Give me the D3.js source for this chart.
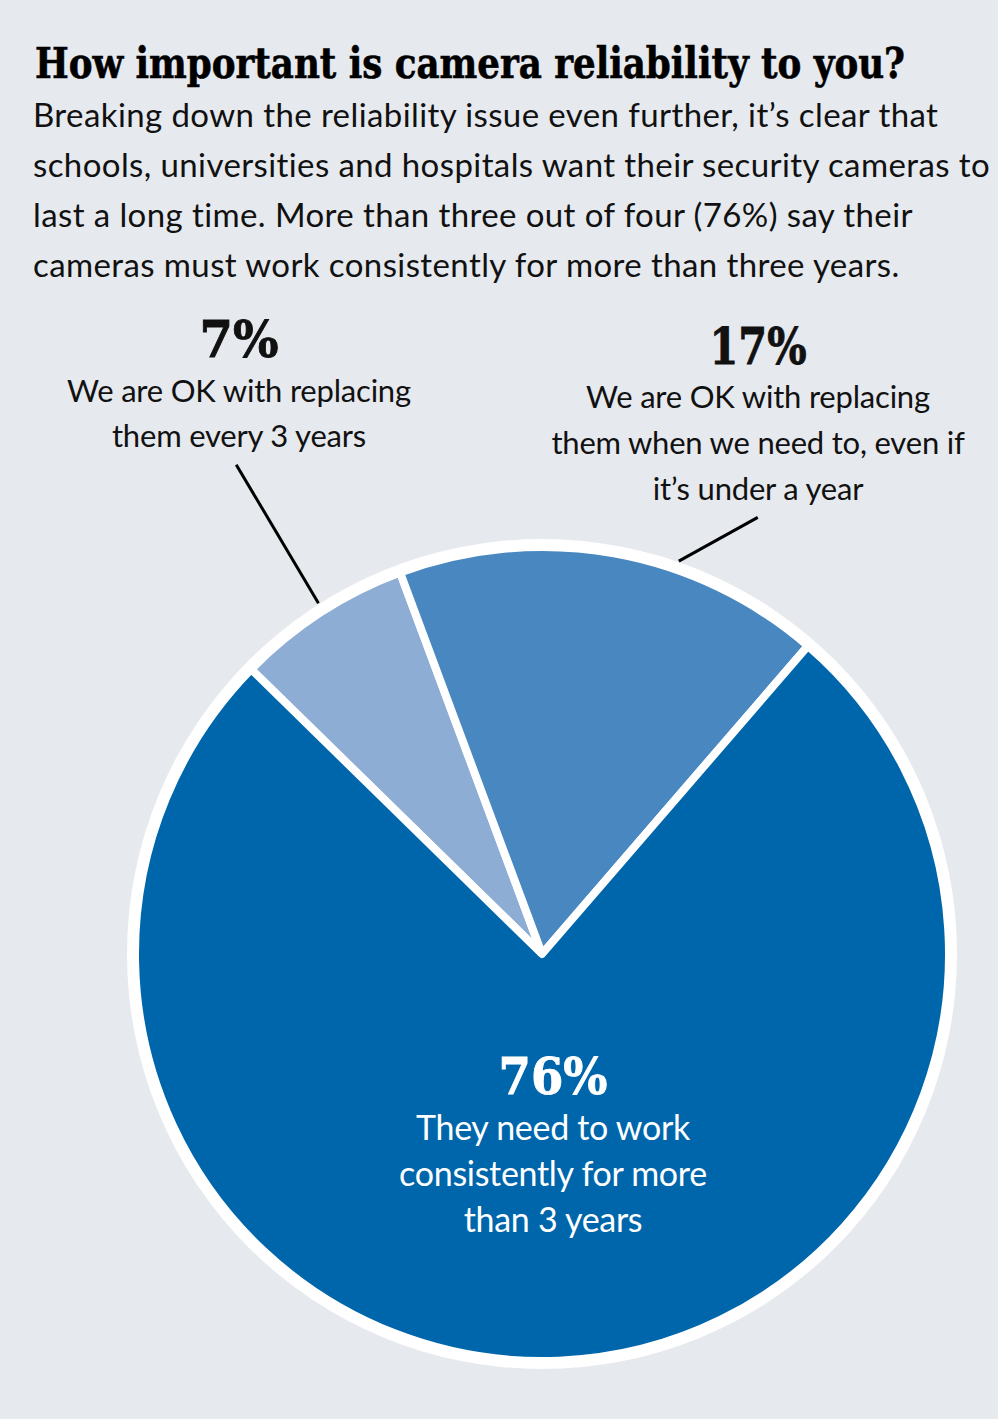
<!DOCTYPE html>
<html>
<head>
<meta charset="utf-8">
<script src="https://cdn.jsdelivr.net/npm/d3@7"></script>
<style>
  body { margin: 0; background: #e6e9ee; }
  svg { display: block; }
</style>
</head>
<body>
<div id="chart"></div>
<script>
// values
var categories = ["Every 3 years", "When needed", "More than 3 years"];
var shares = [7, 17, 76];
var pctLabels = ["7%", "17%", "76%"];
var labelLines = [
  ["We are OK with replacing", "them every 3 years"],
  ["We are OK with replacing", "them when we need to, even if", "it\u2019s under a year"],
  ["They need to work", "consistently for more", "than 3 years"]
];
var title = "How important is camera reliability to you?";
var intro = [
  "Breaking down the reliability issue even further, it\u2019s clear that",
  "schools, universities and hospitals want their security cameras to",
  "last a long time. More than three out of four (76%) say their",
  "cameras must work consistently for more than three years."
];

var width = 998, height = 1419;
var cx = 542, cy = 954, radius = 407;
var colors = ["#8eadd5", "#4887c0", "#0066ab"];
var serif = "'DejaVu Serif Condensed', 'DejaVu Serif', serif";
var sans = "Lato, 'Noto Sans', sans-serif";

var svg = d3.select("#chart").append("svg")
  .attr("width", width).attr("height", height);

svg.append("rect").attr("width", width).attr("height", height).attr("fill", "#e6e9ee");

svg.append("text")
  .attr("x", 35).attr("y", 78)
  .attr("textLength", 870).attr("lengthAdjust", "spacingAndGlyphs")
  .style("font-family", serif).style("font-weight", "900")
  .style("font-size", "43px").attr("fill", "#000")
  .attr("stroke", "#000").attr("stroke-width", 0.6)
  .text(title);

svg.selectAll(".intro").data(intro).enter().append("text")
  .attr("class", "intro")
  .attr("x", 33).attr("y", function(d, i) { return 127 + i * 50; })
  .style("font-family", sans).style("font-size", "33px")
  .style("letter-spacing", "0.4px").attr("fill", "#111")
  .text(function(d) { return d; });

// pie
var start = -45.6 * Math.PI / 180;
var pie = d3.pie().sort(null).startAngle(start).endAngle(start + 2 * Math.PI);
var arc = d3.arc().innerRadius(0).outerRadius(radius);
var g = svg.append("g").attr("transform", "translate(" + cx + "," + cy + ")");

g.append("circle").attr("r", radius + 8).attr("fill", "#fff");

var arcs = pie(shares);
g.selectAll("path").data(arcs).enter().append("path")
  .attr("d", arc)
  .attr("fill", function(d, i) { return colors[i]; })
  .attr("stroke", "#fff").attr("stroke-width", 8)
  .attr("stroke-linejoin", "round");

// leader lines: angle offsets (deg) from slice middle at pie edge and at label end
var leaders = [
  { i: 0, a1: 0.5, a2: 1.0, r1: 416, r2: 577 },
  { i: 1, a1: 9.0, a2: 16.1, r1: 416, r2: 487 }
];
function polar(a, r) { return [Math.sin(a) * r, -Math.cos(a) * r]; }
leaders.forEach(function(l) {
  var d = arcs[l.i];
  var mid = (d.startAngle + d.endAngle) / 2;
  var p1 = polar(mid + l.a1 * Math.PI / 180, l.r1);
  var p2 = polar(mid + l.a2 * Math.PI / 180, l.r2);
  g.append("line")
    .attr("x1", p1[0]).attr("y1", p1[1]).attr("x2", p2[0]).attr("y2", p2[1])
    .attr("stroke", "#000").attr("stroke-width", 3);
});

// labels
var labelPos = [
  { x: 239, y: 357, w: 79, first: 402, step: 45, size: 31, ls: -0.2, fill: "#111" },
  { x: 758, y: 364, w: 97, first: 408, step: 46, size: 31, ls: -0.2, fill: "#111" },
  { x: 553, y: 1094, w: 109, first: 1140, step: 46, size: 34, ls: -0.3, fill: "#fff" }
];
labelPos.forEach(function(p, i) {
  svg.append("text")
    .attr("x", p.x).attr("y", p.y).attr("text-anchor", "middle")
    .attr("textLength", p.w).attr("lengthAdjust", "spacingAndGlyphs")
    .style("font-family", serif).style("font-weight", "bold")
    .style("font-size", "50px").attr("fill", p.fill)
    .attr("stroke", p.fill).attr("stroke-width", 0.8)
    .text(pctLabels[i]);
  svg.selectAll(".lab" + i).data(labelLines[i]).enter().append("text")
    .attr("class", "lab" + i)
    .attr("x", p.x).attr("y", function(d, j) { return p.first + j * p.step; })
    .attr("text-anchor", "middle")
    .style("font-family", sans).style("font-size", p.size + "px")
    .style("letter-spacing", p.ls + "px").attr("fill", p.fill)
    .text(function(d) { return d; });
});
</script>
</body>
</html>
